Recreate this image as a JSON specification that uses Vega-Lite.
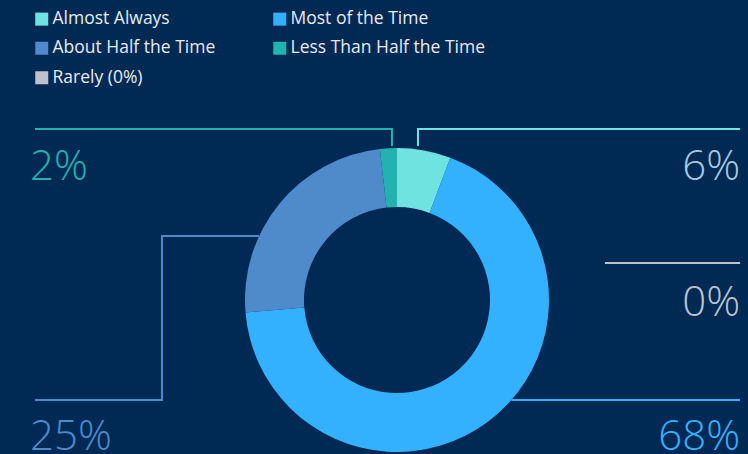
{
  "$schema": "https://vega.github.io/schema/vega-lite/v6.json",
  "autosize": {"type": "none"},
  "width": 304,
  "height": 304,
  "padding": {"left": 245, "top": 148, "right": 199, "bottom": 2},
  "background": "#002953",
  "config": {"view": {"stroke": null}, "font": "Open Sans"},
  "datasets": {
    "slices": [
      {"category": "Almost Always", "value": 5.7, "ord": 1},
      {"category": "Most of the Time", "value": 68.0, "ord": 2},
      {"category": "Rarely (0%)", "value": 0, "ord": 3},
      {"category": "About Half the Time", "value": 24.5, "ord": 4},
      {"category": "Less Than Half the Time", "value": 1.8, "ord": 5}
    ],
    "leaders": [
      {"category": "Less Than Half the Time", "seg": "a", "ord": 1, "u": -0.033, "v": 1.013},
      {"category": "Less Than Half the Time", "seg": "a", "ord": 2, "u": -0.033, "v": 1.125},
      {"category": "Less Than Half the Time", "seg": "a", "ord": 3, "u": -2.382, "v": 1.125},
      {"category": "Almost Always", "seg": "b", "ord": 1, "u": 0.138, "v": 1.013},
      {"category": "Almost Always", "seg": "b", "ord": 2, "u": 0.138, "v": 1.125},
      {"category": "Almost Always", "seg": "b", "ord": 3, "u": 2.257, "v": 1.125},
      {"category": "Rarely (0%)", "seg": "c", "ord": 1, "u": 1.368, "v": 0.243},
      {"category": "Rarely (0%)", "seg": "c", "ord": 2, "u": 2.257, "v": 0.243},
      {"category": "About Half the Time", "seg": "d", "ord": 1, "u": -0.908, "v": 0.421},
      {"category": "About Half the Time", "seg": "d", "ord": 2, "u": -1.546, "v": 0.421},
      {"category": "About Half the Time", "seg": "d", "ord": 3, "u": -1.546, "v": -0.658},
      {"category": "About Half the Time", "seg": "d", "ord": 4, "u": -2.382, "v": -0.658},
      {"category": "Most of the Time", "seg": "e", "ord": 1, "u": 0.753, "v": -0.658},
      {"category": "Most of the Time", "seg": "e", "ord": 2, "u": 2.257, "v": -0.658}
    ],
    "labels": [
      {"category": "Less Than Half the Time", "label": "2%", "side": "left", "u": -2.414, "v": 0.789},
      {"category": "Almost Always", "label": "6%", "side": "right", "u": 2.257, "v": 0.789},
      {"category": "Rarely (0%)", "label": "0%", "side": "right", "u": 2.257, "v": -0.105},
      {"category": "About Half the Time", "label": "25%", "side": "left", "u": -2.414, "v": -0.987},
      {"category": "Most of the Time", "label": "68%", "side": "right", "u": 2.257, "v": -0.987}
    ]
  },
  "layer": [
    {
      "data": {"name": "slices"},
      "mark": {"type": "arc", "innerRadius": 93, "outerRadius": 152},
      "encoding": {
        "theta": {"field": "value", "type": "quantitative", "stack": true},
        "order": {"field": "ord", "type": "quantitative"},
        "color": {
          "field": "category",
          "type": "nominal",
          "scale": {
            "domain": ["Almost Always", "About Half the Time", "Rarely (0%)", "Most of the Time", "Less Than Half the Time"],
            "range": ["#6FE3E0", "#4F8ACA", "#BEC2CA", "#33B1FF", "#22B2AF"]
          },
          "legend": {
            "title": null,
            "orient": "none",
            "legendX": -212,
            "legendY": -138,
            "columns": 2,
            "columnPadding": 55,
            "rowPadding": 10.5,
            "symbolType": "square",
            "symbolSize": 169,
            "symbolStrokeWidth": 0,
            "labelOffset": 2,
            "labelFont": "Open Sans",
            "labelFontSize": 17.5,
            "labelColor": "#E6ECF2",
            "labelLimit": 400
          }
        }
      }
    },
    {
      "data": {"name": "leaders"},
      "mark": {"type": "line", "strokeWidth": 2, "interpolate": "linear"},
      "encoding": {
        "x": {"field": "u", "type": "quantitative", "scale": {"domain": [-1, 1], "nice": false, "zero": false}, "axis": null},
        "y": {"field": "v", "type": "quantitative", "scale": {"domain": [-1, 1], "nice": false, "zero": false}, "axis": null},
        "detail": {"field": "seg", "type": "nominal"},
        "order": {"field": "ord", "type": "quantitative"},
        "stroke": {
          "field": "category",
          "type": "nominal",
          "scale": {
            "domain": ["Almost Always", "Most of the Time", "About Half the Time", "Less Than Half the Time", "Rarely (0%)"],
            "range": ["#6FE3E0", "#33B1FF", "#4F8ACA", "#22B2AF", "#BEC2CA"]
          },
          "legend": null
        }
      }
    },
    {
      "data": {"name": "labels"},
      "transform": [{"filter": "datum.side === 'left'"}],
      "mark": {"type": "text", "align": "left", "baseline": "alphabetic", "fontSize": 42, "fontWeight": 300, "font": "Open Sans"},
      "encoding": {
        "x": {"field": "u", "type": "quantitative"},
        "y": {"field": "v", "type": "quantitative"},
        "text": {"field": "label"},
        "fill": {
          "field": "category",
          "type": "nominal",
          "scale": {
            "domain": ["Almost Always", "Most of the Time", "About Half the Time", "Less Than Half the Time", "Rarely (0%)"],
            "range": ["#A8C8E0", "#33B1FF", "#4F8ACA", "#22B2AF", "#BAC4D0"]
          },
          "legend": null
        }
      }
    },
    {
      "data": {"name": "labels"},
      "transform": [{"filter": "datum.side === 'right'"}],
      "mark": {"type": "text", "align": "right", "baseline": "alphabetic", "fontSize": 42, "fontWeight": 300, "font": "Open Sans"},
      "encoding": {
        "x": {"field": "u", "type": "quantitative"},
        "y": {"field": "v", "type": "quantitative"},
        "text": {"field": "label"},
        "fill": {
          "field": "category",
          "type": "nominal",
          "legend": null
        }
      }
    }
  ]
}
